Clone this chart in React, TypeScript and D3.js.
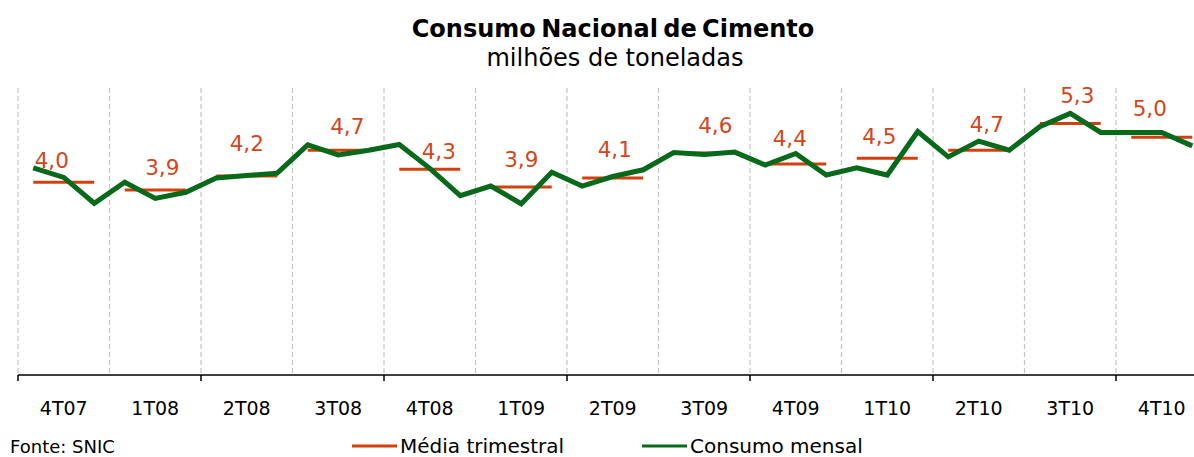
import React, { useRef, useEffect } from 'react';
import * as d3 from 'd3';

const quarters = ['4T07', '1T08', '2T08', '3T08', '4T08', '1T09', '2T09', '3T09', '4T09', '1T10', '2T10', '3T10', '4T10'];

// consumo mensal, 3 meses por trimestre
const monthly = [
  4.33, 4.13, 3.59,
  4.03, 3.69, 3.82,
  4.12, 4.17, 4.22,
  4.81, 4.6, 4.7,
  4.82, 4.32, 3.75,
  3.95, 3.58, 4.24,
  3.95, 4.15, 4.29,
  4.65, 4.61, 4.66,
  4.39, 4.63, 4.18,
  4.33, 4.18, 5.09,
  4.56, 4.89, 4.7,
  5.19, 5.47, 5.07,
  5.07, 5.07, 4.79,
];

const quarterlyAvg = [4.03, 3.87, 4.16, 4.7, 4.3, 3.93, 4.12, 4.64, 4.41, 4.53, 4.7, 5.26, 4.97];

// labels were placed by hand in the original, small nudges [dx, dy]
const labelNudge = [
  [-12, -14], [7, -15], [0, -25], [9, -16], [9, -10], [0, -20], [2, -21],
  [11, -20], [-6, -18], [-8, -14], [8, -18], [7, -20], [-12, -21],
];

const W = 1194;
const H = 457;
const FONT = '"DejaVu Sans", Verdana, sans-serif';
const ORANGE = '#d3400f';
const GREEN = '#07691a';

const App = () => {
  const ref = useRef<SVGSVGElement | null>(null);

  useEffect(() => {
    const svg = d3.select(ref.current);
    svg.selectAll('*').remove();

    const left = 18;
    const step = 30.5;
    const top = 88;
    const bottom = 375;

    const x = d3
      .scaleBand<number>()
      .domain(monthly.map((d, i) => i))
      .range([left, left + step * monthly.length]);

    const q = d3
      .scaleBand<string>()
      .domain(quarters)
      .range([left, left + step * monthly.length]);

    const y = d3.scaleLinear().domain([0, 6]).range([bottom, top]);

    const cx = (i: number) => (x(i) as number) + x.bandwidth() / 2;

    // title
    svg
      .append('text')
      .attr('x', 613)
      .attr('y', 37)
      .attr('text-anchor', 'middle')
      .style('font-family', FONT)
      .style('font-weight', 'bold')
      .style('font-size', '24px')
      .style('word-spacing', '-3px')
      .text('Consumo Nacional de Cimento');

    svg
      .append('text')
      .attr('x', 615)
      .attr('y', 66)
      .attr('text-anchor', 'middle')
      .style('font-family', FONT)
      .style('font-size', '24px')
      .text('milhões de toneladas');

    // grid verticais tracejadas
    const bounds = d3.range(quarters.length + 1).map(i => left + i * q.step());
    svg
      .append('g')
      .selectAll('line')
      .data(bounds)
      .enter()
      .append('line')
      .attr('x1', d => d)
      .attr('x2', d => d)
      .attr('y1', top)
      .attr('y2', bottom)
      .attr('stroke', '#c4c4c4')
      .attr('stroke-width', 1.2)
      .attr('stroke-dasharray', '5,3');

    // eixo x
    const axis = svg.append('g');
    axis
      .append('line')
      .attr('x1', left)
      .attr('x2', left + step * monthly.length)
      .attr('y1', bottom)
      .attr('y2', bottom)
      .attr('stroke', '#000')
      .attr('stroke-width', 1.5);
    axis
      .selectAll('line.tick')
      .data(bounds.filter((d, i) => i % 2 === 0))
      .enter()
      .append('line')
      .attr('class', 'tick')
      .attr('x1', d => d)
      .attr('x2', d => d)
      .attr('y1', bottom)
      .attr('y2', bottom + 6)
      .attr('stroke', '#000')
      .attr('stroke-width', 1.5);
    axis
      .selectAll('text')
      .data(quarters)
      .enter()
      .append('text')
      .attr('x', d => (q(d) as number) + q.bandwidth() / 2)
      .attr('y', 415)
      .attr('text-anchor', 'middle')
      .style('font-family', FONT)
      .style('font-size', '19px')
      .text(d => d);

    // médias trimestrais
    svg
      .append('g')
      .selectAll('line')
      .data(quarterlyAvg)
      .enter()
      .append('line')
      .attr('x1', (d, i) => cx(i * 3))
      .attr('x2', (d, i) => cx(i * 3 + 2))
      .attr('y1', d => y(d))
      .attr('y2', d => y(d))
      .attr('stroke', ORANGE)
      .attr('stroke-width', 3);

    // consumo mensal
    const line = d3
      .line<number>()
      .x((d, i) => cx(i))
      .y(d => y(d));

    svg
      .append('path')
      .datum(monthly)
      .attr('d', line)
      .attr('fill', 'none')
      .attr('stroke', GREEN)
      .attr('stroke-width', 5)
      .attr('stroke-linejoin', 'miter');

    // rótulos das médias
    svg
      .append('g')
      .selectAll('text')
      .data(quarterlyAvg)
      .enter()
      .append('text')
      .attr('x', (d, i) => cx(i * 3 + 1) + labelNudge[i][0])
      .attr('y', (d, i) => y(d) + labelNudge[i][1])
      .attr('text-anchor', 'middle')
      .style('font-family', FONT)
      .style('font-size', '21.5px')
      .style('fill', '#d4461a')
      .text(d => d3.format('.1f')(d).replace('.', ','));

    // fonte
    svg
      .append('text')
      .attr('x', 10)
      .attr('y', 453)
      .style('font-family', FONT)
      .style('font-size', '18px')
      .text('Fonte: SNIC');

    // legenda
    const legend = [
      { label: 'Média trimestral', color: ORANGE, x: 352 },
      { label: 'Consumo mensal', color: GREEN, x: 642 },
    ];
    const lg = svg
      .append('g')
      .selectAll('g')
      .data(legend)
      .enter()
      .append('g')
      .attr('transform', d => 'translate(' + d.x + ', 446)');
    lg.append('line')
      .attr('x1', 0)
      .attr('x2', 45)
      .attr('stroke', d => d.color)
      .attr('stroke-width', 3);
    lg.append('text')
      .attr('x', 48)
      .attr('y', 7)
      .style('font-family', FONT)
      .style('font-size', '20px')
      .text(d => d.label);
  }, []);

  return (
    <svg
      ref={ref}
      width={W}
      height={H}
      style={{ position: 'absolute', left: 0, top: 0, background: '#fff' }}
    />
  );
};

export default App;
